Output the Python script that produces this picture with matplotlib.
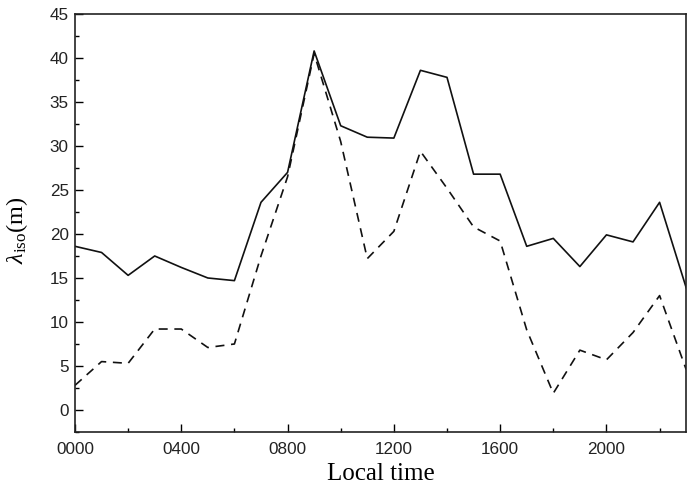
import numpy as np
import matplotlib
matplotlib.use("Agg")
import matplotlib.pyplot as plt
from matplotlib.ticker import MultipleLocator

# DATA
hours = list(range(24))
solid_vals = [18.6, 17.9, 15.3, 17.5, 16.2, 15.0, 14.7, 23.6, 27.0, 40.8,
              32.3, 31.0, 30.9, 38.6, 37.8, 26.8, 26.8, 18.6, 19.5, 16.3,
              19.9, 19.1, 23.6, 13.9]
dashed_vals = [2.8, 5.5, 5.3, 9.2, 9.2, 7.1, 7.5, 17.5, 26.5, 40.5,
               30.5, 17.2, 20.3, 29.4, 25.2, 20.8, 19.2, 9.1, 1.9, 6.8,
               5.7, 8.8, 13.0, 4.6]
xtick_pos = [0, 4, 8, 12, 16, 20]
xtick_labels = ["0000", "0400", "0800", "1200", "1600", "2000"]

plt.rcParams['mathtext.fontset'] = 'custom'
plt.rcParams['mathtext.rm'] = 'Liberation Serif'
plt.rcParams['mathtext.it'] = 'Liberation Serif:italic'


def main() -> None:
    fig = plt.figure(figsize=(6.91, 4.88), dpi=100)
    ax = fig.add_axes([0.1085, 0.1148, 0.8845, 0.8565])

    ax.plot(hours, solid_vals, color='#111111', lw=1.2)
    ax.plot(hours, dashed_vals, color='#111111', lw=1.2, dashes=(5.4, 4.0))

    ax.set_xlim(0, 23)
    ax.set_ylim(-2.5, 45)
    ax.set_xticks(xtick_pos)
    ax.set_xticklabels(xtick_labels)
    ax.xaxis.set_minor_locator(MultipleLocator(2))
    ax.yaxis.set_major_locator(MultipleLocator(5))
    ax.yaxis.set_minor_locator(MultipleLocator(2.5))

    ax.tick_params(which='both', direction='in', top=False, right=False,
                   width=1.0, labelsize=12.3)
    ax.tick_params(axis='x', pad=7.5)
    ax.tick_params(axis='y', pad=4.5)
    ax.tick_params(which='major', length=5.5)
    ax.tick_params(which='minor', length=3)
    for lab in ax.get_xticklabels() + ax.get_yticklabels():
        lab.set_fontfamily('Liberation Sans')
        lab.set_color('#222222')

    for sp in ax.spines.values():
        sp.set_linewidth(1.2)
        sp.set_color('#222222')

    ax.set_xlabel('Local time', fontfamily='Liberation Serif', fontsize=18,
                  labelpad=4)
    ax.set_ylabel(r'$\lambda_{\rm iso}$(m)', fontfamily='Liberation Serif',
                  fontsize=17.5)
    ax.yaxis.set_label_coords(-0.074, 0.483)

    fig.savefig('out.png', dpi=100)


if __name__ == "__main__":
    main()
